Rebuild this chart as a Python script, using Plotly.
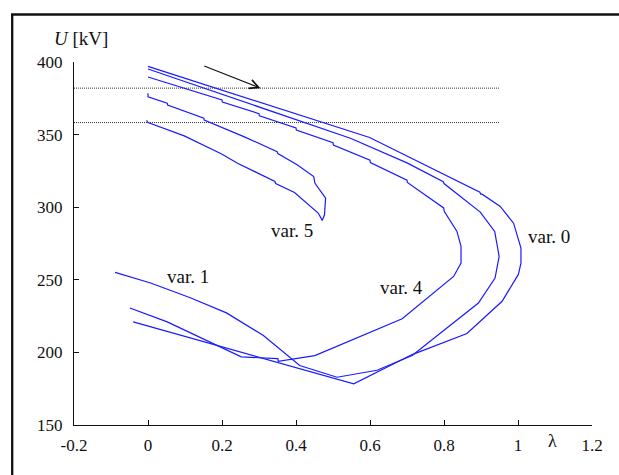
import plotly.graph_objects as go

# P-V (nose) curves: voltage U [kV] against loading parameter lambda
lam_var0 = [0.0, 0.30, 0.599, 0.897, 0.899, 0.903, 0.952, 0.988, 1.008, 1.008, 1.001, 0.957, 0.862, 0.714, 0.556, -0.04]
u_var0 = [397.0, 372.5, 348.0, 310.4, 309.0, 309.0, 300.5, 289.0, 271.8, 261.5, 253.7, 235.2, 213.0, 198.5, 178.3, 221.0]

lam_var1 = [0.0, 0.30, 0.547, 0.70, 0.798, 0.800, 0.898, 0.937, 0.949, 0.938, 0.893, 0.714, 0.619, 0.511, 0.410, 0.311, 0.212, 0.116, 0.007, -0.089]
u_var1 = [395.2, 369.0, 347.5, 330.5, 317.5, 316.3, 296.6, 283.3, 266.1, 251.2, 234.0, 197.8, 187.7, 182.9, 191.0, 211.8, 227.2, 237.5, 247.8, 255.1]

lam_var4 = [0.0, 0.200, 0.201, 0.300, 0.301, 0.400, 0.401, 0.500, 0.501, 0.600, 0.601, 0.700, 0.701, 0.799, 0.801,
            0.835, 0.846, 0.846, 0.826, 0.687, 0.451, 0.352, 0.351, 0.252, 0.052, -0.049]
u_var4 = [389.7, 373.8, 372.4, 364.4, 362.9, 354.6, 353.1, 344.4, 342.8, 332.4, 330.8, 318.6, 317.0, 299.5, 297.0,
          283.3, 273.0, 261.5, 252.3, 223.2, 197.8, 193.9, 195.7, 196.9, 221.0, 230.6]

lam_var5 = [0.0, 0.0, 0.052, 0.053, 0.151, 0.152, 0.259, 0.349, 0.351, 0.403, 0.448, 0.451, 0.480, 0.477, 0.471,
            0.460, 0.396, 0.345, 0.343, 0.242, 0.199, 0.098, 0.0, -0.004]
u_var5 = [378.5, 376.1, 371.6, 370.3, 361.3, 360.0, 348.6, 338.3, 336.9, 329.2, 321.1, 316.6, 306.3, 294.8, 290.9,
          296.0, 310.1, 316.3, 317.7, 330.3, 336.7, 349.1, 358.3, 359.8]

# Voltage limits drawn as dotted reference lines
limit_u = [382.0, 358.3]
limit_lam = [-0.2, 0.95]

curve_labels = ["var. 0", "var. 1", "var. 4", "var. 5"]
label_lam = [1.083, 0.108, 0.685, 0.39]
label_u = [279.5, 252.5, 245.0, 283.8]

x_tickvals = [-0.2, 0.0, 0.2, 0.4, 0.6, 0.8, 1.0, 1.2]
x_ticktext = ["-0.2", "0", "0.2", "0.4", "0.6", "0.8", "1", "1.2"]
y_tickvals = [150, 200, 250, 300, 350, 400]

W, H = 619, 475
ML, MR, MT, MB = 74, 27, 62, 50
PW, PH = W - ML - MR, H - MT - MB


def px_x(px):
    return (px - ML) / PW


def px_y(py):
    return (H - MB - py) / PH


SERIF = "Liberation Serif"
BLUE = "#1a1aff"
INK = "#111111"

fig = go.Figure()

for uu in limit_u:
    fig.add_trace(go.Scatter(
        x=limit_lam, y=[uu, uu], mode="lines",
        line=dict(color="#333333", width=1, dash="1px,1px"),
        hoverinfo="skip", showlegend=False,
    ))

for lx, uy in [(lam_var0, u_var0), (lam_var1, u_var1), (lam_var4, u_var4), (lam_var5, u_var5)]:
    fig.add_trace(go.Scatter(
        x=lx, y=uy, mode="lines",
        line=dict(color=BLUE, width=1.2),
        showlegend=False,
    ))

for txt, lx, uy in zip(curve_labels, label_lam, label_u):
    fig.add_annotation(x=lx, y=uy, text=txt, showarrow=False,
                       font=dict(family=SERIF, size=19, color=INK))

# arrow pointing at the upper voltage limit
fig.add_annotation(x=0.304, y=limit_u[0], ax=0.148, ay=397.7,
                   xref="x", yref="y", axref="x", ayref="y",
                   text="", showarrow=True, arrowhead=5, arrowsize=1.6,
                   arrowwidth=1.1, arrowcolor=INK, standoff=0)

# axis titles
fig.add_annotation(xref="paper", yref="paper", x=px_x(52), y=px_y(39),
                   xanchor="left", yanchor="middle", showarrow=False,
                   text="<i>U</i> [kV]", font=dict(family=SERIF, size=19, color=INK))
fig.add_annotation(xref="paper", yref="paper", x=px_x(552), y=px_y(441),
                   xanchor="center", yanchor="middle", showarrow=False,
                   text="λ", font=dict(family=SERIF, size=18, color=INK))

# outer frame (left and top edges)
fig.add_shape(type="line", xref="paper", yref="paper",
              x0=px_x(12.2), x1=px_x(12.2), y0=px_y(14.5), y1=px_y(480),
              line=dict(color=INK, width=2.3))
fig.add_shape(type="line", xref="paper", yref="paper",
              x0=px_x(11), x1=px_x(625), y0=px_y(14.5), y1=px_y(14.5),
              line=dict(color=INK, width=2.3))

fig.update_xaxes(range=[-0.2, 1.2], tickvals=x_tickvals, ticktext=x_ticktext,
                 showgrid=False, zeroline=False, showline=True, linecolor=INK,
                 linewidth=1.3, ticks="inside", ticklen=5, tickcolor=INK,
                 ticklabelstandoff=4,
                 tickfont=dict(family=SERIF, size=17, color=INK))
fig.update_yaxes(range=[150, 400], tickvals=y_tickvals,
                 showgrid=False, zeroline=False, showline=True, linecolor=INK,
                 linewidth=1.3, ticks="inside", ticklen=5, tickcolor=INK,
                 ticklabelstandoff=7,
                 tickfont=dict(family=SERIF, size=17, color=INK))

fig.update_layout(
    width=W, height=H,
    margin=dict(l=ML, r=MR, t=MT, b=MB, pad=0),
    paper_bgcolor="white", plot_bgcolor="white",
    showlegend=False,
    font=dict(family=SERIF),
)

fig.write_html("out.html")
